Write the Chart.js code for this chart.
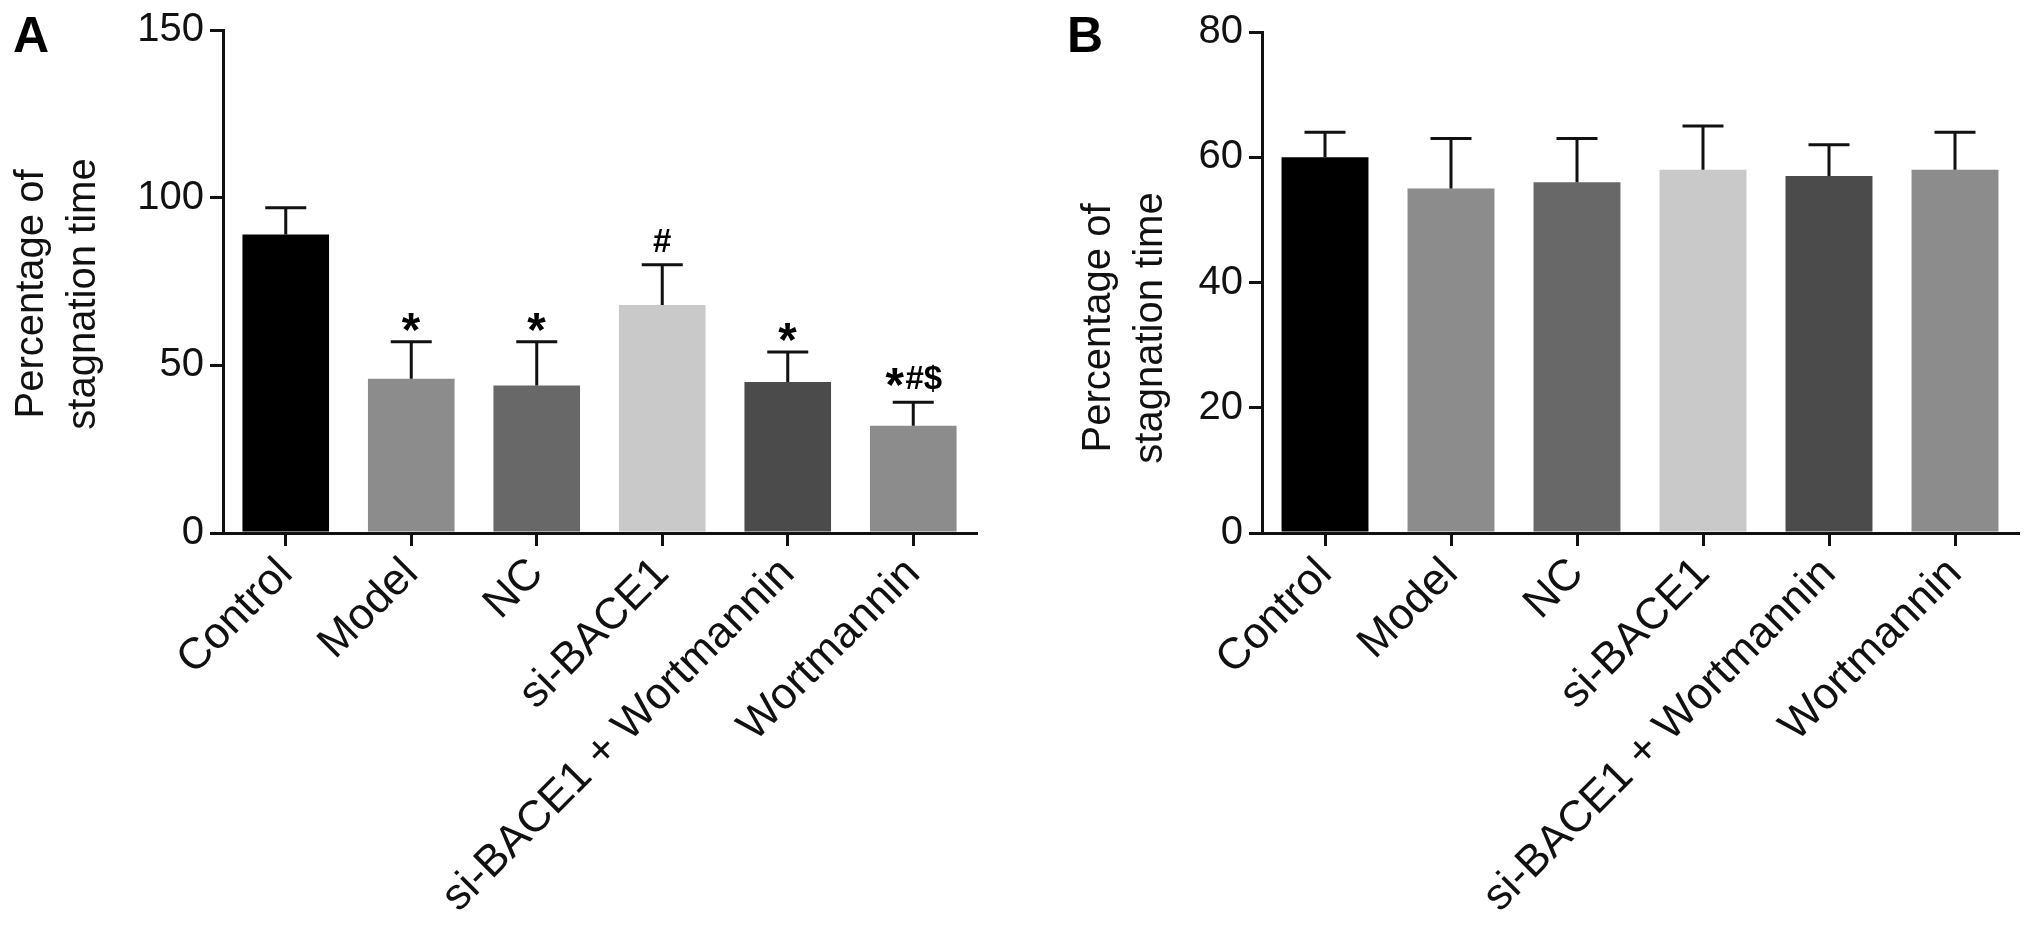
<!DOCTYPE html>
<html><head><meta charset="utf-8">
<script src="https://cdn.jsdelivr.net/npm/chart.js@4.4.0/dist/chart.umd.min.js"></script>
<style>
html,body{margin:0;padding:0;background:#fff;width:2031px;height:933px;overflow:hidden}
canvas{position:absolute;top:0}
#ca{left:0}
#cb{left:1040px}
</style>
</head><body>
<canvas id="ca" width="1010" height="933"></canvas>
<canvas id="cb" width="991" height="933"></canvas>
<script>
const categories = ['Control', 'Model', 'NC', 'si-BACE1', 'si-BACE1 + Wortmannin', 'Wortmannin'];
const valuesA = [89, 46, 44, 68, 45, 32];
const errorsA = [8, 11, 13, 12, 9, 7];
const marksA = ['', '*', '*', '#', '*', '*#$'];
const valuesB = [60, 55, 56, 58, 57, 58];
const errorsB = [4, 8, 7, 7, 5, 6];
const marksB = ['', '', '', '', '', ''];
const barColors = ['#000000', '#8c8c8c', '#686868', '#c9c9c9', '#4b4b4b', '#8c8c8c'];
const yTitle = ['Percentage of', 'stagnation time'];

const FONT = '"Liberation Sans", Arial, Helvetica, sans-serif';

function drawMark(ctx, text, cx, capY) {
  const base = capY - 13;
  ctx.font = 'bold 100px ' + FONT;
  const sm = ctx.measureText('*');
  const starSize = 18 / ((sm.actualBoundingBoxAscent + sm.actualBoundingBoxDescent) / 100);
  const glyphs = [...text].map(ch => {
    const font = ch === '*' ? ('bold ' + starSize.toFixed(1) + 'px ' + FONT) : ('bold 33px ' + FONT);
    ctx.font = font;
    const m = ctx.measureText(ch);
    const w = ch === '*' ? (m.actualBoundingBoxLeft + m.actualBoundingBoxRight + 2) : m.width;
    return { ch, font, m, w };
  });
  const total = glyphs.reduce((s, g) => s + g.w, 0);
  let x = cx - total / 2;
  ctx.textAlign = 'left';
  ctx.textBaseline = 'alphabetic';
  ctx.fillStyle = '#000';
  glyphs.forEach(g => {
    ctx.font = g.font;
    if (g.ch === '*') {
      const targetCenter = capY - (text.length > 1 ? 25 : 20);
      const y = targetCenter + (g.m.actualBoundingBoxAscent - g.m.actualBoundingBoxDescent) / 2;
      ctx.fillText(g.ch, x + 1 + g.m.actualBoundingBoxLeft, y);
    } else {
      ctx.fillText(g.ch, x, base);
    }
    x += g.w;
  });
}

const errorBarPlugin = {
  id: 'errorBars',
  afterDatasetsDraw(chart) {
    const opts = chart.options.plugins.errorBars;
    const meta = chart.getDatasetMeta(0);
    const ys = chart.scales.y;
    const ctx = chart.ctx;
    ctx.save();
    ctx.strokeStyle = '#111';
    ctx.lineWidth = 3;
    ctx.lineCap = 'butt';
    meta.data.forEach((el, i) => {
      const v = chart.data.datasets[0].data[i];
      const top = ys.getPixelForValue(v + opts.errors[i]);
      const x = el.x;
      ctx.beginPath();
      ctx.moveTo(x, el.y);
      ctx.lineTo(x, top);
      ctx.moveTo(x - 20.5, top);
      ctx.lineTo(x + 20.5, top);
      ctx.stroke();
      if (opts.marks[i]) drawMark(ctx, opts.marks[i], x, top);
    });
    ctx.restore();
  }
};

const panelTextPlugin = {
  id: 'panelText',
  afterDraw(chart) {
    const o = chart.options.plugins.panelText;
    const ctx = chart.ctx;
    ctx.save();
    ctx.fillStyle = '#000';
    ctx.font = 'bold 50px ' + FONT;
    ctx.textAlign = 'left';
    ctx.textBaseline = 'alphabetic';
    ctx.fillText(o.label, o.labelX, 52);
    ctx.fillStyle = '#111';
    ctx.font = '40px ' + FONT;
    ctx.textAlign = 'center';
    ctx.translate(o.titleX, o.titleY);
    ctx.rotate(-Math.PI / 2);
    o.title.forEach((line, i) => ctx.fillText(line, 0, i * 52));
    ctx.restore();
  }
};

function makeChart(id, values, errors, marks, maxV, step, yWidth, padLeft, padRight, padTop, label, labelX, titleX, titleY) {
  return new Chart(document.getElementById(id), {
    type: 'bar',
    data: {
      labels: categories,
      datasets: [{
        data: values,
        backgroundColor: barColors,
        borderWidth: 0,
        barPercentage: 0.69,
        categoryPercentage: 1.0
      }]
    },
    options: {
      responsive: false,
      animation: false,
      devicePixelRatio: 1,
      layout: { padding: { left: padLeft, right: padRight, top: padTop, bottom: 0 } },
      plugins: {
        legend: { display: false },
        tooltip: { enabled: false },
        errorBars: { errors: errors, marks: marks },
        panelText: { label: label, labelX: labelX, title: yTitle, titleX: titleX, titleY: titleY }
      },
      scales: {
        x: {
          offset: true,
          grid: { display: true, drawOnChartArea: false, drawTicks: true, tickLength: 13, offset: false, color: '#111', lineWidth: 3 },
          border: { display: true, color: '#111', width: 3 },
          ticks: {
            autoSkip: false, maxRotation: 45, minRotation: 45, padding: 2,
            color: '#111', font: { family: FONT, size: 44 }
          },
          afterFit(scale) { scale.height = 400; }
        },
        y: {
          min: 0, max: maxV,
          grid: { display: true, drawOnChartArea: false, drawTicks: true, tickLength: 13, color: '#111', lineWidth: 3 },
          border: { display: true, color: '#111', width: 3 },
          ticks: { stepSize: step, padding: 6, color: '#111', font: { family: FONT, size: 40 } },
          title: { display: false },
          afterFit(scale) { scale.width = yWidth; }
        }
      }
    },
    plugins: [errorBarPlugin, panelTextPlugin]
  });
}

makeChart('ca', valuesA, errorsA, marksA, 150, 50, 223, 0, 34, 30, 'A', 13, 43, 294);
makeChart('cb', valuesB, errorsB, marksB, 80, 20, 222, 0, 13, 32, 'B', 27, 70, 328);
</script>
</body></html>
